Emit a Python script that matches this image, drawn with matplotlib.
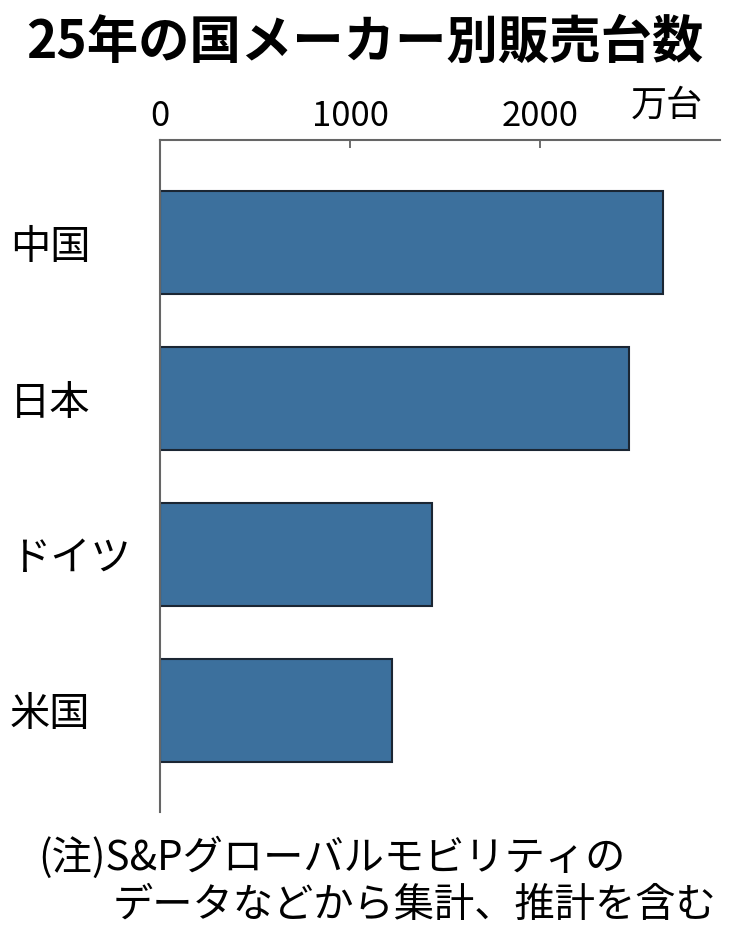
import matplotlib
matplotlib.use("Agg")
import matplotlib.pyplot as plt
from matplotlib import font_manager

categories = ["中国", "日本", "ドイツ", "米国"]
values = [2647, 2468, 1432, 1221]
xticks = [0, 1000, 2000]
xtick_labels = ["0", "1000", "2000"]
title = "25年の国メーカー別販売台数"
unit = "万台"
note1 = "(注)S&Pグローバルモビリティの"
note2 = "データなどから集計、推計を含む"

plt.rcParams['font.family'] = ['Noto Sans CJK JP', 'DejaVu Sans']

names = {f.name for f in font_manager.fontManager.ttflist}
tick_family = ['Liberation Sans Narrow', 'Noto Sans CJK JP'] if 'Liberation Sans Narrow' in names else ['Noto Sans CJK JP']

fig = plt.figure(figsize=(7.42, 9.42), dpi=100)
ax = fig.add_axes([160/742, 1-812/942, (720-160)/742, (812-140)/942])

ypos = list(range(len(categories)))
ax.barh(ypos, values, height=0.66, color="#3c709d", edgecolor="#1b2633", linewidth=1.5)

ax.set_xlim(0, 2947)
ax.set_ylim(3.654, -0.66)
ax.set_yticks(ypos)
ax.set_yticklabels(categories, fontsize=29)
ax.tick_params(axis='y', length=0, pad=150*0.72)
for lab in ax.get_yticklabels():
    lab.set_horizontalalignment('left')

ax.xaxis.tick_top()
ax.set_xticks(xticks)
ax.set_xticklabels(xtick_labels, fontsize=25, family=tick_family)
ax.tick_params(axis='x', direction='in', length=6, width=1.2, color='#555555', pad=4)

for s in ['right', 'bottom']:
    ax.spines[s].set_visible(False)
for s in ['top', 'left']:
    ax.spines[s].set_color('#666666')
    ax.spines[s].set_linewidth(1.5)

fig.text(365/742, 1-42/942, title, fontsize=37, fontweight='bold', ha='center', va='center')
fig.text(667/742, 1-106/942, unit, fontsize=26, ha='center', va='center')
fig.text(38/742, 1-858/942, note1, fontsize=29, ha='left', va='center')
fig.text(113/742, 1-905/942, note2, fontsize=29, ha='left', va='center')

fig.savefig("out.png", dpi=100)
